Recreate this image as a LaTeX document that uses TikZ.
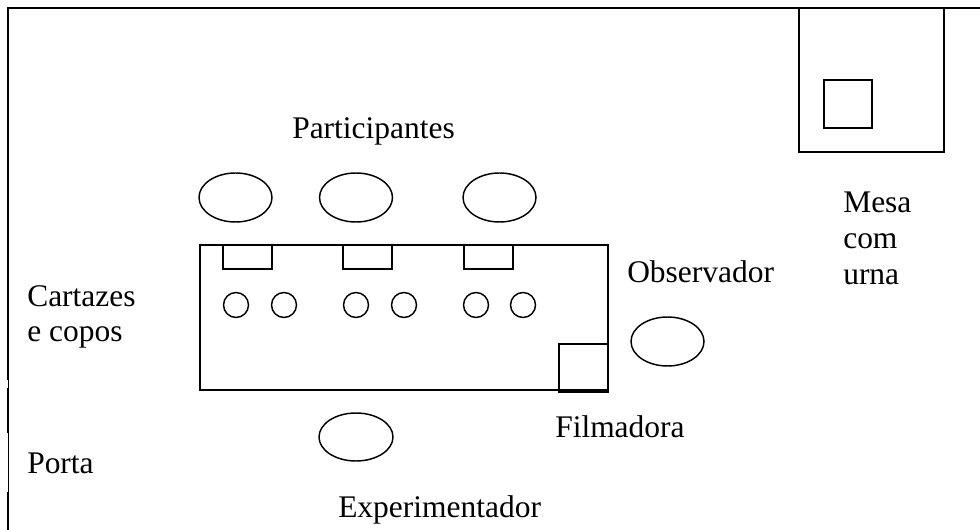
\documentclass[tikz,border=0pt]{standalone}
\usepackage{fontspec}
\setmainfont{Liberation Serif}
\begin{document}
\begin{tikzpicture}[x=0.75pt,y=-0.75pt,
  wall/.style={line width=1.5pt},
  thinwall/.style={line width=0.75pt},
  outl/.style={line width=1.1pt},
  lbl/.style={font=\fontsize{23.6}{28}\selectfont, inner sep=0pt, anchor=base west}]
\useasboundingbox (0,0) rectangle (980,530);
% walls
\draw[wall] (8,380) -- (8,8) -- (980,8);
\draw[thinwall] (8,380) -- (8,530);
\draw[wall] (8,388) -- (8,433);
\draw[wall] (8,492) -- (8,530);
% mesa com urna
\draw[outl] (799,8) rectangle (944,152);
\draw[outl] (824,80) rectangle (872,128);
% main table
\draw[outl] (200,245) rectangle (608,390);
\foreach \x in {223,343,464} \draw[outl] (\x,245) rectangle ++(49,24);
\foreach \x in {236,284,356,404,476,523} \draw[outl] (\x,305) circle (12.5);
\draw[outl] (559,344) rectangle (608,392);
% participants
\foreach \x in {235.5,356,499.5} \draw[outl] (\x,197.5) ellipse (36.5 and 24.5);
% observer
\draw[outl] (667.5,341.5) ellipse (36.5 and 24.5);
% experimenter
\draw[outl] (356,437) ellipse (37 and 24);
% labels
\node[lbl] (part) at (292,139) {Participantes};
\node[lbl] (mesa1) at (843,213) {Mesa};
\node[lbl] (mesa2) at (843,249) {com};
\node[lbl] (mesa3) at (843,285) {urna};
\node[lbl] (cart1) at (27,307) {Cartazes};
\node[lbl] (cart2) at (27,342) {e copos};
\node[lbl] (obs) at (627,283) {Observador};
\node[lbl] (film) at (555,437) {Filmadora};
\node[lbl] (porta) at (27,473) {Porta};
\node[lbl] (exp) at (338,517) {Experimentador};
\end{tikzpicture}
\end{document}
